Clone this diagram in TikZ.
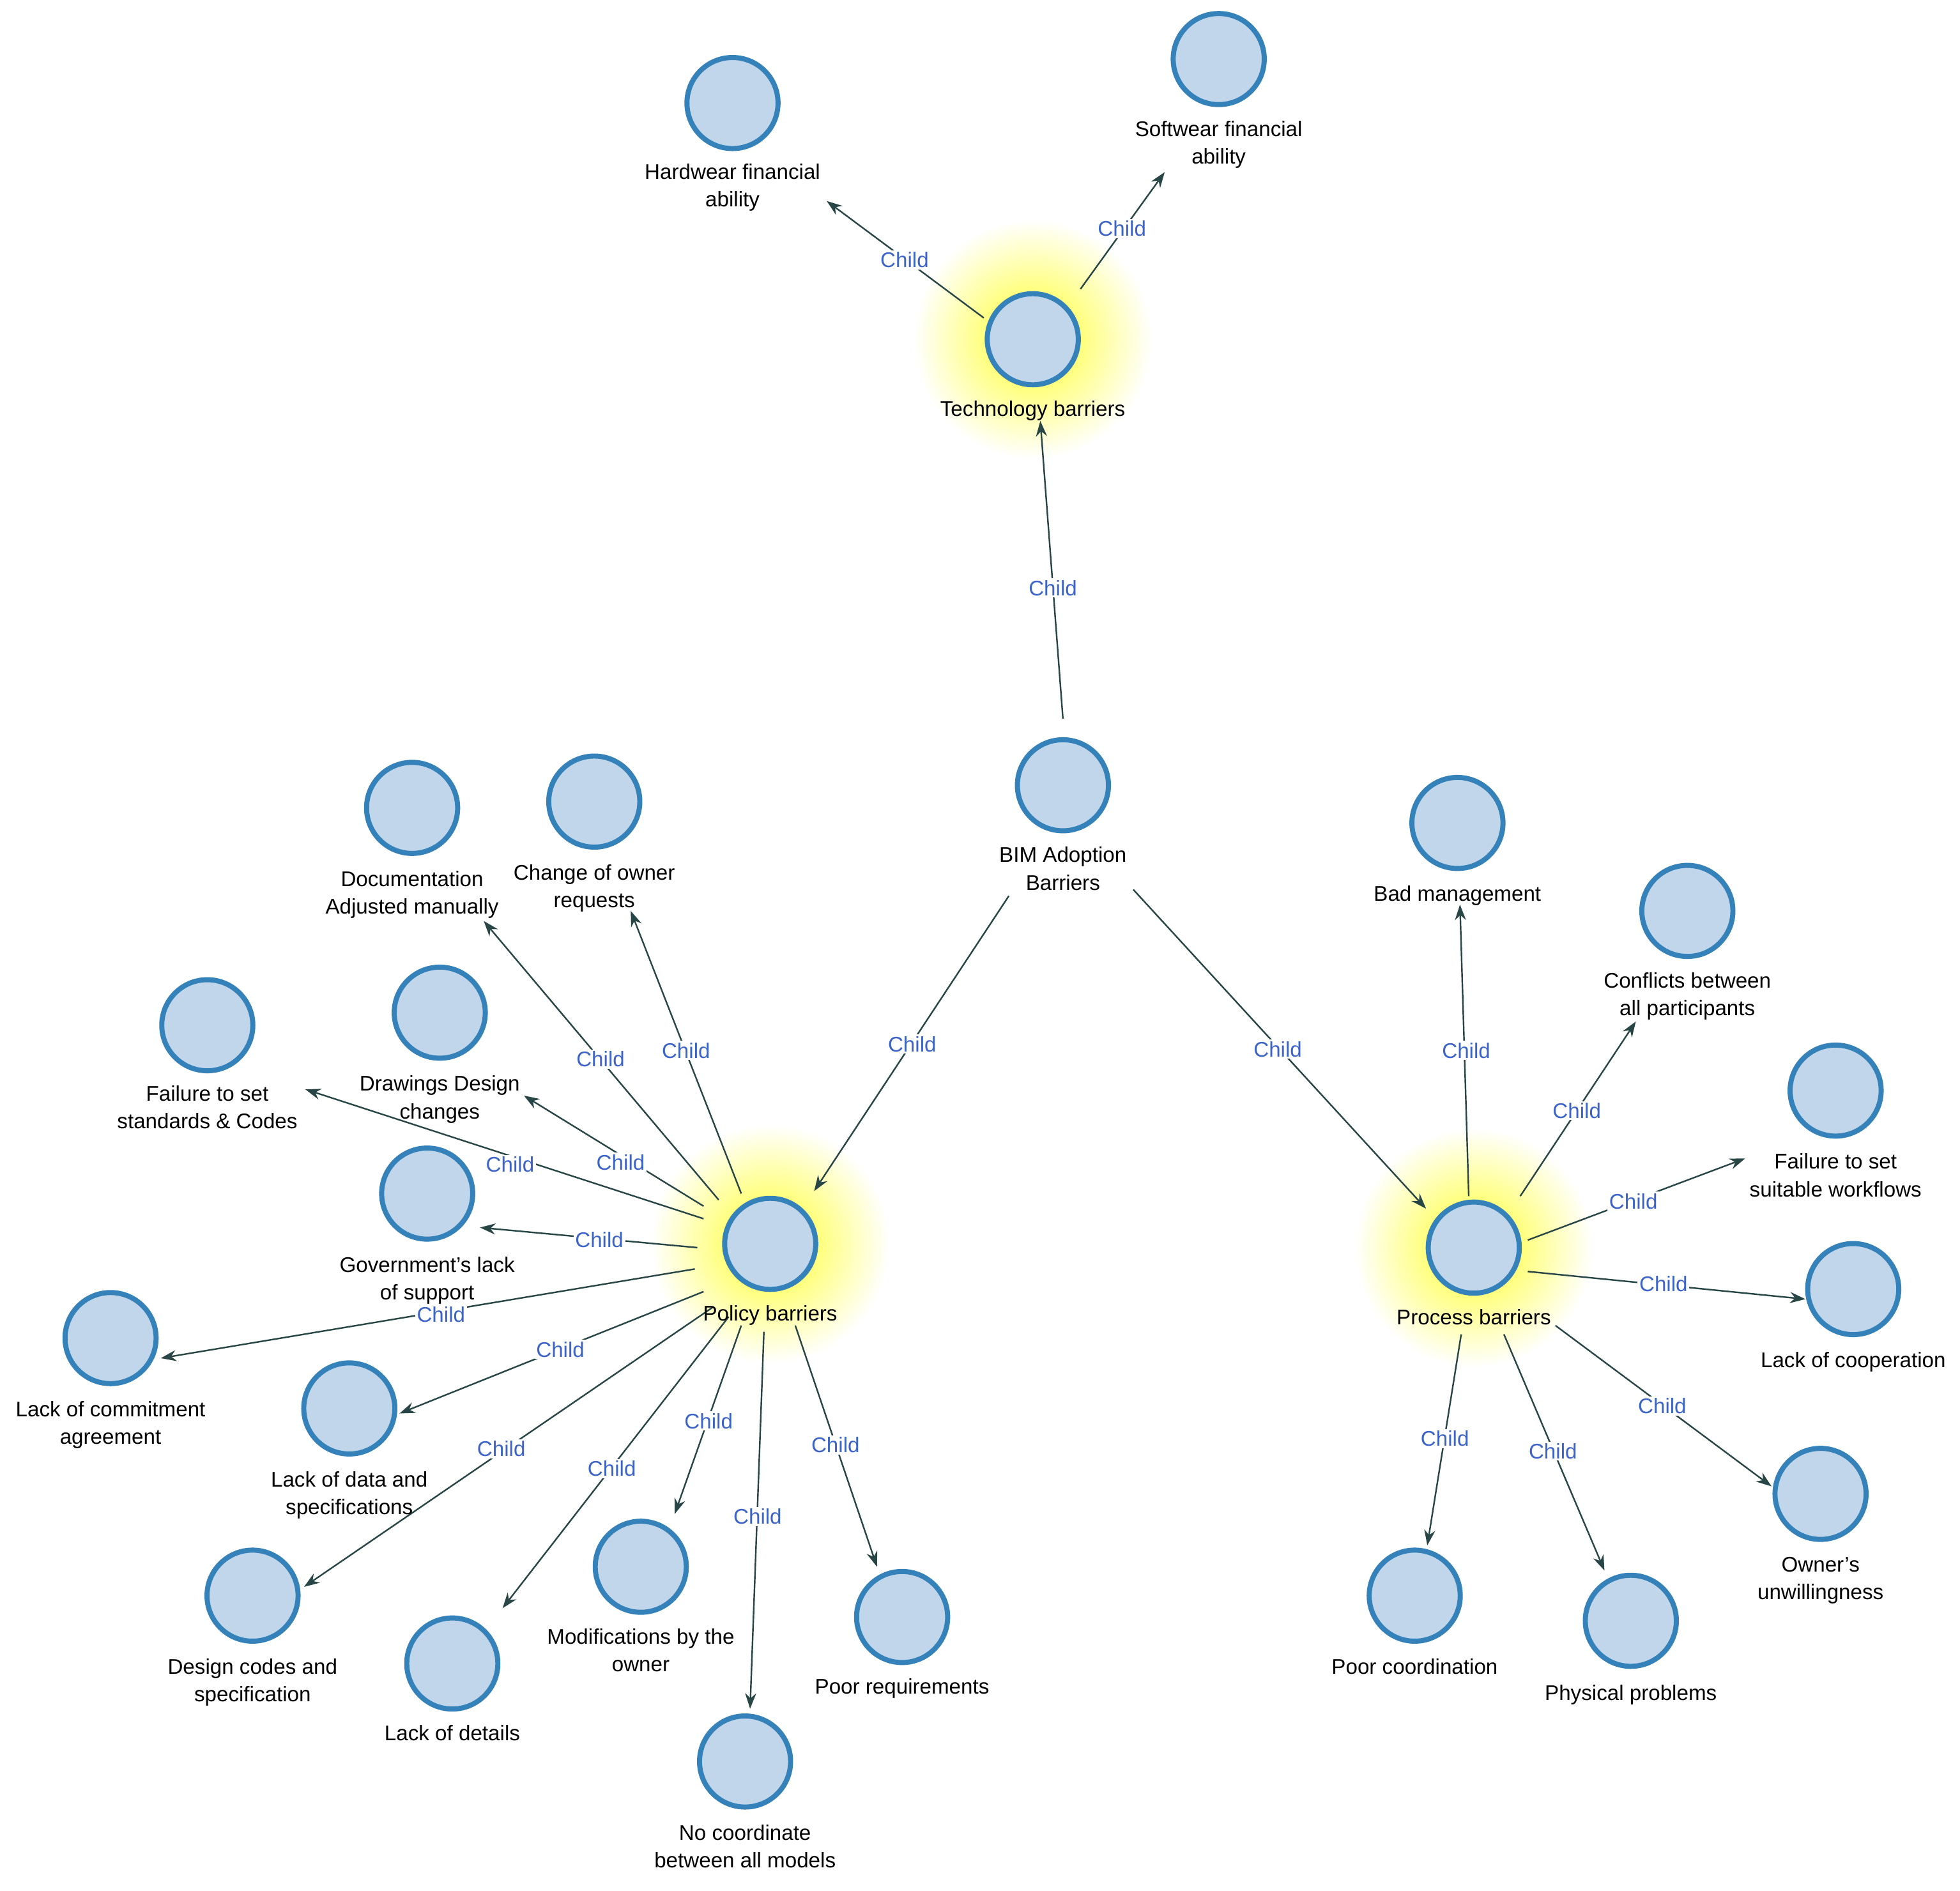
\documentclass[tikz,border=0pt]{standalone}
\usepackage{fontspec}
\setmainfont{Liberation Sans}
\begin{document}
\begin{tikzpicture}[x=0.02cm,y=-0.02cm,
  nd/.style={circle,draw=ndb,fill=ndf,line width=2.3pt,minimum size=1.45cm,inner sep=0pt},
  lb/.style={align=center,font=\fontsize{9.6}{12.5}\selectfont,text=black},
  ar/.style={draw=arr,line width=0.7pt,-{Stealth[length=7pt,width=5pt]}},
  cl/.style={font=\fontsize{9.6}{12}\selectfont,text=chl,fill=white,inner sep=0.8pt}]
\usetikzlibrary{arrows.meta}
\definecolor{ndf}{RGB}{193,214,234}
\definecolor{ndb}{RGB}{52,130,185}
\definecolor{arr}{RGB}{40,70,70}
\definecolor{chl}{RGB}{60,100,200}
\useasboundingbox (0,0) rectangle (1560,1505);
% glows
\foreach \x/\y in {822/270,613/990,1173/993}
  \shade[inner color=yellow!85,outer color=white] (\x,\y) circle (95);
% edges
\newcommand{\ed}[6]{\coordinate (s) at (#1); \coordinate (e) at (#2); \path[ar] (s) -- (e); \node[cl] at (#3) {Child};}
\ed{846,572}{828,335}{838,468}{}{}{}
\ed{783,253}{658,160}{720,207}{}{}{}
\ed{860,230}{927,137}{893,182}{}{}{}
\ed{803,713}{648,948}{726,831}{}{}{}
\ed{902,708}{1135,962}{1017,835}{}{}{}
\ed{572,955}{385,733}{478,843}{}{}{}
\ed{590,950}{502,725}{546,836}{}{}{}
\ed{560,960}{417,872}{494,925}{}{}{}
\ed{560,970}{243,867}{406,927}{}{}{}
\ed{555,993}{382,977}{477,987}{}{}{}
\ed{553,1010}{128,1081}{351,1046}{}{}{}
\ed{560,1028}{318,1125}{446,1074}{}{}{}
\ed{568,1040}{242,1263}{399,1153}{}{}{}
\ed{580,1048}{400,1280}{487,1169}{}{}{}
\ed{590,1055}{537,1205}{564,1131}{}{}{}
\ed{608,1060}{597,1360}{603,1207}{}{}{}
\ed{633,1055}{698,1247}{665,1150}{}{}{}
\ed{1169,952}{1162,720}{1167,836}{}{}{}
\ed{1210,952}{1302,813}{1255,884}{}{}{}
\ed{1216,987}{1389,922}{1300,956}{}{}{}
\ed{1216,1012}{1437,1034}{1324,1022}{}{}{}
\ed{1238,1055}{1410,1183}{1323,1119}{}{}{}
\ed{1163,1062}{1136,1230}{1150,1145}{}{}{}
\ed{1197,1062}{1277,1250}{1236,1155}{}{}{}
% nodes
\newcommand{\nn}[5]{\node[nd] (#1) at (#2,#3) {}; \node[lb,anchor=north] (#1l) at (#2,#4) {#5};}
\nn{tech}{822}{270}{313}{Technology barriers}
\nn{hw}{583}{82}{124}{Hardwear financial\\ability}
\nn{sw}{970}{47}{90}{Softwear financial\\ability}
\nn{bim}{846}{625}{668}{BIM Adoption\\Barriers}
\nn{pol}{613}{990}{1033}{Policy barriers}
\nn{pro}{1173}{993}{1036}{Process barriers}
\nn{doc}{328}{643}{687}{Documentation\\Adjusted manually}
\nn{cho}{473}{638}{682}{Change of owner\\requests}
\nn{dra}{350}{806}{850}{Drawings Design\\changes}
\nn{fss}{165}{816}{858}{Failure to set\\standards \& Codes}
\nn{gov}{340}{950}{994}{Government's lack\\of support}
\nn{com}{88}{1065}{1109}{Lack of commitment\\agreement}
\nn{dat}{278}{1121}{1165}{Lack of data and\\specifications}
\nn{des}{201}{1270}{1314}{Design codes and\\specification}
\nn{det}{360}{1324}{1367}{Lack of details}
\nn{mod}{510}{1247}{1290}{Modifications by the\\owner}
\nn{noc}{593}{1402}{1446}{No coordinate\\between all models}
\nn{req}{718}{1287}{1330}{Poor requirements}
\nn{bad}{1160}{655}{699}{Bad management}
\nn{con}{1343}{725}{768}{Conflicts between\\all participants}
\nn{wf}{1461}{868}{912}{Failure to set\\suitable workflows}
\nn{coo}{1475}{1026}{1070}{Lack of cooperation}
\nn{own}{1449}{1189}{1233}{Owner's\\unwillingness}
\nn{pco}{1126}{1270}{1314}{Poor coordination}
\nn{phy}{1298}{1290}{1335}{Physical problems}
\end{tikzpicture}
\end{document}
